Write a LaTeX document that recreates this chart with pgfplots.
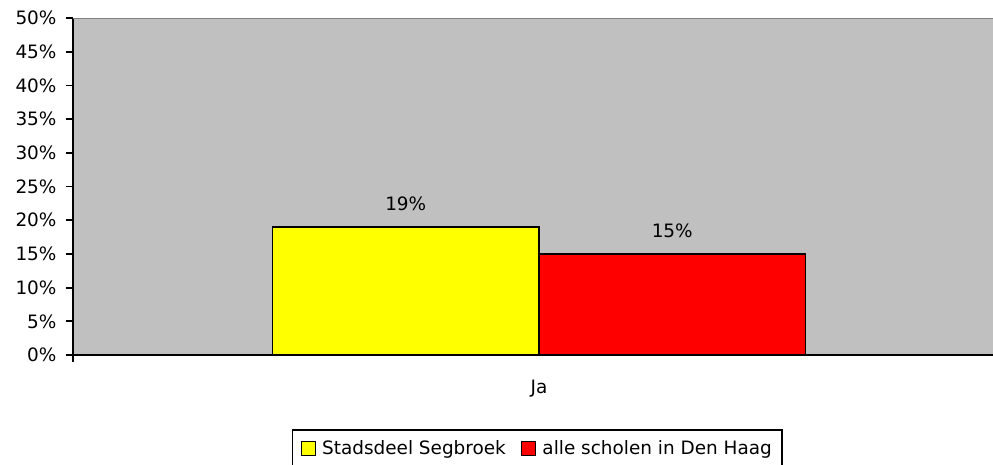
\documentclass[border=0pt]{standalone}
\usepackage{pgfplots}
\pgfplotsset{compat=1.18}
\usepackage{fontspec}
\setmainfont{DejaVu Sans}
\definecolor{bggray}{HTML}{C0C0C0}
\definecolor{topgray}{HTML}{808080}
\definecolor{byellow}{HTML}{FFFF00}
\definecolor{bred}{HTML}{FF0000}
\begin{document}
\begin{tikzpicture}
\begin{axis}[
  at={(73bp,110bp)}, anchor=south west,
  scale only axis, width=932bp, height=337bp,
  font=\fontsize{18.5}{21}\selectfont,
  /pgf/number format/assume math mode=true,
  xmin=0, xmax=1, ymin=0, ymax=50,
  axis x line*=bottom, axis y line*=left,
  axis line style={black, line width=1.8bp},
  axis background/.style={fill=bggray},
  ytick={0,5,...,50},
  yticklabel={\pgfmathprintnumber{\tick}\%},
  yticklabel style={xshift=-6bp},
  ytick style={black, line width=1.8bp},
  tick align=outside,
  major tick length=7bp,
  xtick={0.5}, xticklabels={Ja},
  xtick style={draw=none},
  xticklabel style={yshift=-15bp},
  extra x ticks={0,1}, extra x tick labels={},
  extra x tick style={xtick style={draw=black, line width=1.8bp}},
  ybar, bar width=266.5bp,
  nodes near coords={\pgfmathprintnumber{\pgfplotspointmeta}\%},
  every node near coord/.append style={anchor=center, yshift=23bp, font=\fontsize{18.5}{21}\selectfont, black},
  legend columns=2,
  legend style={at={(0.498,0)}, anchor=north, yshift=-74bp, draw=black, line width=1.8bp,
    fill=white, font=\fontsize{18.5}{21}\selectfont, inner xsep=8bp, inner ysep=9bp,
    /tikz/every odd column/.append style={column sep=4bp},
    /tikz/every even column/.append style={column sep=13bp}},
  legend image code/.code={\draw[#1, line width=1.6bp] (0bp,-7bp) rectangle (14bp,7bp);},
]
\addplot[fill=byellow, draw=black, line width=1.8bp, bar shift=-133.25bp] coordinates {(0.5,19)};
\addplot[fill=bred, draw=black, line width=1.8bp, bar shift=133.25bp] coordinates {(0.5,15)};
\draw[topgray, line width=2bp] (rel axis cs:0,1) -- (rel axis cs:1,1);
\legend{Stadsdeel Segbroek, alle scholen in Den Haag}
\end{axis}
\pgfresetboundingbox
\path[use as bounding box] (0,0) rectangle (993bp,465bp);
\end{tikzpicture}
\end{document}
